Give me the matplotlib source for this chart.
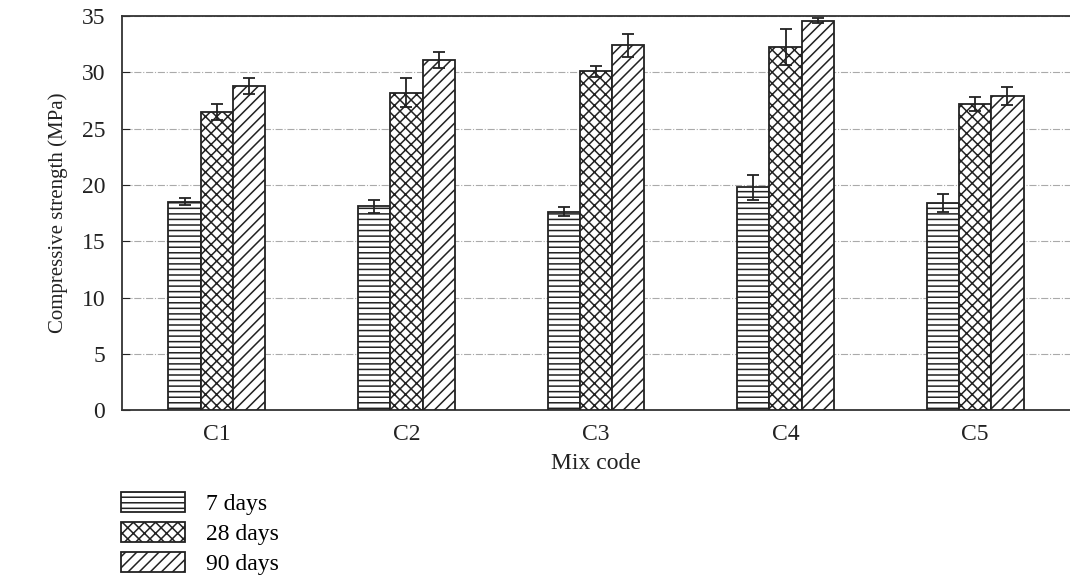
import matplotlib
matplotlib.use("Agg")
import matplotlib.pyplot as plt
import numpy as np

# Datos
mixes = ["C1", "C2", "C3", "C4", "C5"]
ages = ["7 days", "28 days", "90 days"]
strength_7 = [18.5, 18.1, 17.6, 19.8, 18.4]
strength_28 = [26.5, 28.2, 30.1, 32.3, 27.2]
strength_90 = [28.8, 31.1, 32.4, 34.6, 27.9]
err_7 = [0.3, 0.6, 0.4, 1.1, 0.8]
err_28 = [0.7, 1.3, 0.5, 1.6, 0.6]
err_90 = [0.7, 0.7, 1.0, 0.2, 0.8]

plt.rcParams["font.family"] = ["Liberation Serif", "DejaVu Serif"]
plt.rcParams["hatch.linewidth"] = 1.1

fig = plt.figure(figsize=(10.7, 5.76), dpi=100)
ax = fig.add_axes([0.114, 0.288, 0.886, 0.684])

x = np.arange(len(mixes))
w = 0.17
series = [strength_7, strength_28, strength_90]
errs = [err_7, err_28, err_90]
hatches = ["---", "xxx", "///"]
for i, (vals, e, h, lab) in enumerate(zip(series, errs, hatches, ages)):
    ax.bar(x + (i - 1) * w, vals, w, yerr=e, color="white", edgecolor="#222222",
           linewidth=1.3, hatch=h, label=lab, capsize=4,
           error_kw=dict(ecolor="#222222", elinewidth=1.3, capthick=1.3), zorder=3)

ax.set_xlim(-0.5, 4.5)
ax.set_ylim(0, 35)
ax.set_yticks(range(0, 36, 5))
ax.set_xticks(x)
ax.set_xticklabels(mixes)
ax.tick_params(axis="y", direction="in", length=6, labelsize=17, colors="#222222", pad=12)
ax.tick_params(axis="x", length=0, labelsize=17, colors="#222222", pad=10)
ax.yaxis.grid(True, linestyle="-.", color="#aaaaaa", linewidth=0.8)
ax.set_axisbelow(True)
for s in ax.spines.values():
    s.set_color("#333333")
    s.set_linewidth(1.3)
ax.spines["right"].set_visible(False)

ax.set_xlabel("Mix code", fontsize=17, color="#222222", labelpad=6)
ax.set_ylabel("Compressive strength (MPa)", fontsize=15, color="#222222", labelpad=10)

fig.legend(loc="lower left", bbox_to_anchor=(0.093, -0.035), frameon=False,
           fontsize=17, handlelength=2.7, handleheight=0.9, labelspacing=0.3,
           handletextpad=0.9)

fig.savefig("out.png", dpi=100)
